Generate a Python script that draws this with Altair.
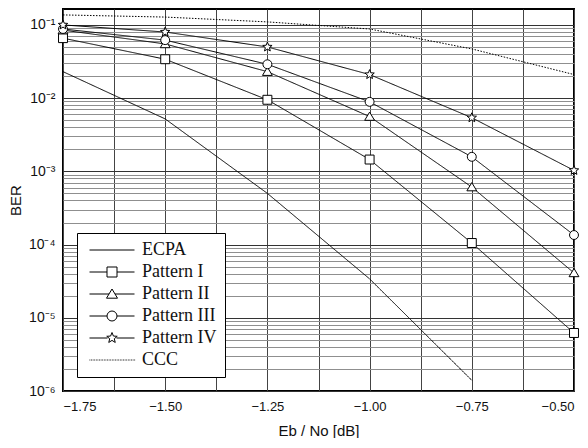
import math
import altair as alt
import pandas as pd

# ---- data ----
ebno = [-1.75, -1.50, -1.25, -1.00, -0.75, -0.50]
ecpa = [0.023, 0.0052, 5.0e-4, 3.4e-5, 1.4e-6]          # ends at -0.75
pattern1 = [0.066, 0.034, 0.0095, 0.00145, 1.05e-4, 6.2e-6]
pattern2 = [0.085, 0.055, 0.023, 0.0056, 6.1e-4, 4.1e-5]
pattern3 = [0.088, 0.062, 0.029, 0.0089, 0.00158, 1.35e-4]
pattern4 = [0.100, 0.080, 0.050, 0.021, 0.0054, 1.03e-3]
ccc = [0.137, 0.128, 0.110, 0.088, 0.047, 0.021]

series_names = ["ECPA", "Pattern I", "Pattern II", "Pattern III", "Pattern IV", "CCC"]
series_vals = [ecpa, pattern1, pattern2, pattern3, pattern4, ccc]
marker_series = ["Pattern I", "Pattern II", "Pattern III", "Pattern IV"]

rows = []
for name, vals in zip(series_names, series_vals):
    for x, v in zip(ebno, vals):
        rows.append({"ebno": x, "ber": v, "series": name})
df = pd.DataFrame(rows)

x_ticks = [-1.75 + 0.125 * i for i in range(11)]
y_ticks = [m * 10.0 ** e for e in range(-6, 0) for m in range(1, 10)]

# ---- symbol paths (Vega custom-shape space: -1..1) ----
def star_path(ro=1.1, ri=0.48):
    pts = []
    for k in range(10):
        r = ro if k % 2 == 0 else ri
        a = math.radians(-90 + 36 * k)
        pts.append((r * math.cos(a), r * math.sin(a)))
    return "M" + "L".join(f"{px:.3f},{py:.3f}" for px, py in pts) + "Z"

SQ = "M-1,-1H1V1H-1Z"
TRI = "M0,-1L1.1,0.84L-1.1,0.84Z"
CIR = "M1,0A1,1 0 1,1 -1,0A1,1 0 1,1 1,0"
STAR = star_path()

L = 4.5
def with_line(shape, half):
    return f"M{-L},0H{-half}M{half},0H{L}" + shape

dots = "".join(f"M{(-L + 0.32 * i):.2f},0H{(-L + 0.32 * i + 0.16):.2f}" for i in range(29))
legend_paths = [
    f"M{-L},0H{L}",
    with_line(SQ, 1),
    with_line(TRI, 0.6),
    with_line(CIR, 1),
    with_line(STAR, 0.9),
    dots,
]

xs = alt.X(
    "ebno:Q",
    scale=alt.Scale(domain=[-1.75, -0.5], nice=False, zero=False),
    axis=alt.Axis(
        values=x_ticks,
        labelExpr="abs(datum.value*4 - round(datum.value*4)) < 1e-6 ? format(datum.value, '.2f') : ''",
        title="Eb / No [dB]",
        grid=True,
        gridColor="#444444",
        gridWidth=1,
        ticks=False,
        domain=False,
        labelFont="Liberation Sans",
        labelFontSize=13,
        labelColor="#111",
        labelPadding=9,
        titleFont="Liberation Sans",
        titleFontSize=15,
        titleFontWeight="normal",
        titleColor="#111",
        titlePadding=10,
    ),
)

ys = alt.Y(
    "ber:Q",
    scale=alt.Scale(type="log", domain=[1e-6, 0.165], nice=False),
    axis=alt.Axis(
        values=y_ticks,
        labelExpr=(
            "abs(log(datum.value)/LN10 - round(log(datum.value)/LN10)) < 1e-6 ? "
            "'10\u207b' + ['','\u00b9','\u00b2','\u00b3','\u2074','\u2075','\u2076'][-round(log(datum.value)/LN10)] : ''"
        ),
        title="BER",
        grid=True,
        gridColor={
            "condition": {
                "test": "abs(log(datum.value)/LN10 - round(log(datum.value)/LN10)) < 1e-6",
                "value": "#333333",
            },
            "value": "#8f8f8f",
        },
        gridWidth=1,
        ticks=False,
        domain=False,
        labelFont="Liberation Sans",
        labelFontSize=14,
        labelColor="#111",
        labelPadding=8,
        labelOverlap=False,
        titleFont="Liberation Sans",
        titleFontSize=15,
        titleFontWeight="normal",
        titleColor="#111",
        titlePadding=5,
    ),
)

lines = alt.Chart(df).mark_line(color="black", strokeWidth=1).encode(
    x=xs,
    y=ys,
    detail="series:N",
    strokeDash=alt.StrokeDash(
        "series:N",
        scale=alt.Scale(domain=series_names, range=[[1, 0]] * 5 + [[1.5, 1.5]]),
        legend=None,
    ),
)

points = alt.Chart(df).transform_filter(
    alt.FieldOneOfPredicate(field="series", oneOf=marker_series)
).mark_point(filled=True, fill="white", stroke="black", strokeWidth=1, opacity=1, size=80).encode(
    x=xs,
    y=ys,
    shape=alt.Shape(
        "series:N",
        scale=alt.Scale(domain=marker_series, range=[SQ, TRI, CIR, STAR]),
        legend=None,
    ),
)

legend_layer = alt.Chart(df).mark_point(
    filled=False, stroke="black", opacity=0, size=100
).encode(
    x=xs,
    y=ys,
    shape=alt.Shape(
        "series:N",
        scale=alt.Scale(domain=series_names, range=legend_paths),
        legend=alt.Legend(
            title=None,
            orient="bottom-left",
            offset=14,
            symbolSize=100,
            symbolOpacity=1,
            symbolStrokeColor="black",
            symbolFillColor="white",
            symbolStrokeWidth=1,
            symbolOffset=18,
            labelOffset=21,
            labelFont="Liberation Serif",
            labelFontSize=18,
            labelColor="#111",
            rowPadding=4,
            padding=8,
            strokeColor="black",
            fillColor="white",
            labelLimit=200,
        ),
    ),
)

chart = (
    alt.layer(lines, points, legend_layer)
    .resolve_scale(shape="independent")
    .resolve_legend(shape="independent")
    .properties(
        width=511,
        height=382,
        autosize=alt.AutoSizeParams(type="none"),
        padding={"left": 55, "top": 1, "right": 6, "bottom": 47},
        background="white",
    )
    .configure_view(stroke="black", strokeWidth=2)
)

chart.save("out.html", embed_options={"renderer": "svg", "actions": False})
